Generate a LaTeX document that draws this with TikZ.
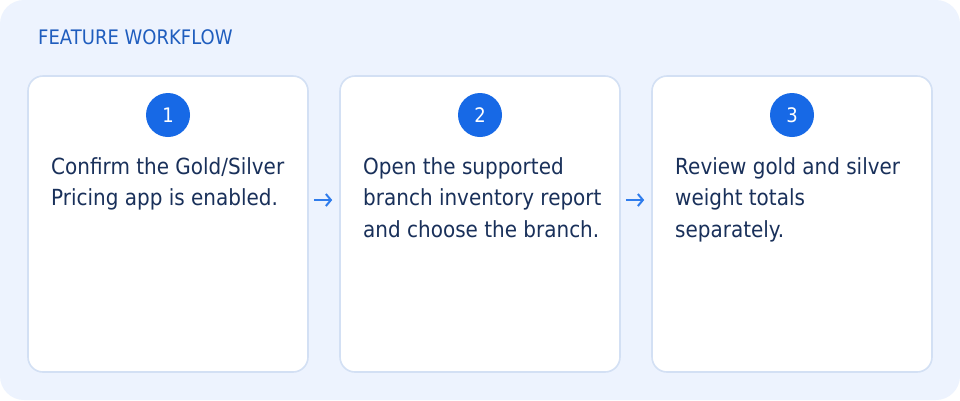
\documentclass[tikz,border=0pt]{standalone}
\usepackage{fontspec}
\setmainfont[FakeStretch=0.9]{DejaVu Sans}
\usetikzlibrary{arrows.meta}
\definecolor{panelbg}{HTML}{EDF3FE}
\definecolor{cardline}{HTML}{D3E0F4}
\definecolor{numfill}{HTML}{1769E6}
\definecolor{headtxt}{HTML}{1F5DBE}
\definecolor{bodytxt}{HTML}{19305A}
\definecolor{arrowcol}{HTML}{2F7CEC}
\tikzset{
  card/.style={draw=cardline, line width=1.6pt, fill=white, rounded corners=15pt,
    minimum width=280pt, minimum height=296pt, inner sep=0pt},
  numdot/.style={circle, fill=numfill, text=white, minimum size=44pt, inner sep=0pt,
    font=\fontsize{20}{20}\selectfont},
  bodytext/.style={anchor=north west, inner sep=0pt, align=left, text=bodytxt,
    font=\fontsize{22.2}{31.5}\selectfont},
  flowarrow/.style={draw=arrowcol, line width=2pt, -{Straight Barb[length=5pt,width=12pt]}},
  headtext/.style={anchor=base west, inner sep=0pt, text=headtxt,
    font=\fontsize{20}{20}\selectfont}
}
\begin{document}
\begin{tikzpicture}[x=1pt,y=-1pt]
\useasboundingbox (0,0) rectangle (960,400);
\fill[white] (0,0) rectangle (960,400);
\fill[panelbg, rounded corners=24pt] (0,0) rectangle (960,400);
\node[headtext] (head) at (38,44.5) {FEATURE WORKFLOW};

\node[card] (c1) at (168,224) {};
\node[card] (c2) at (480,224) {};
\node[card] (c3) at (792,224) {};

\node[numdot] (n1) at (168,115) {1};
\node[numdot] (n2) at (480,115) {2};
\node[numdot] (n3) at (792,115) {3};

\node[bodytext] (t1) at (51,157) {Confirm the Gold/Silver\\Pricing app is enabled.};
\node[bodytext] (t2) at (363,157) {Open the supported\\branch inventory report\\and choose the branch.};
\node[bodytext] (t3) at (675,157) {Review gold and silver\\weight totals\\separately.};

\draw[flowarrow] ([xshift=5pt,yshift=24pt]c1.east) -- ([xshift=-7pt,yshift=24pt]c2.west);
\draw[flowarrow] ([xshift=5pt,yshift=24pt]c2.east) -- ([xshift=-7pt,yshift=24pt]c3.west);
\end{tikzpicture}
\end{document}
